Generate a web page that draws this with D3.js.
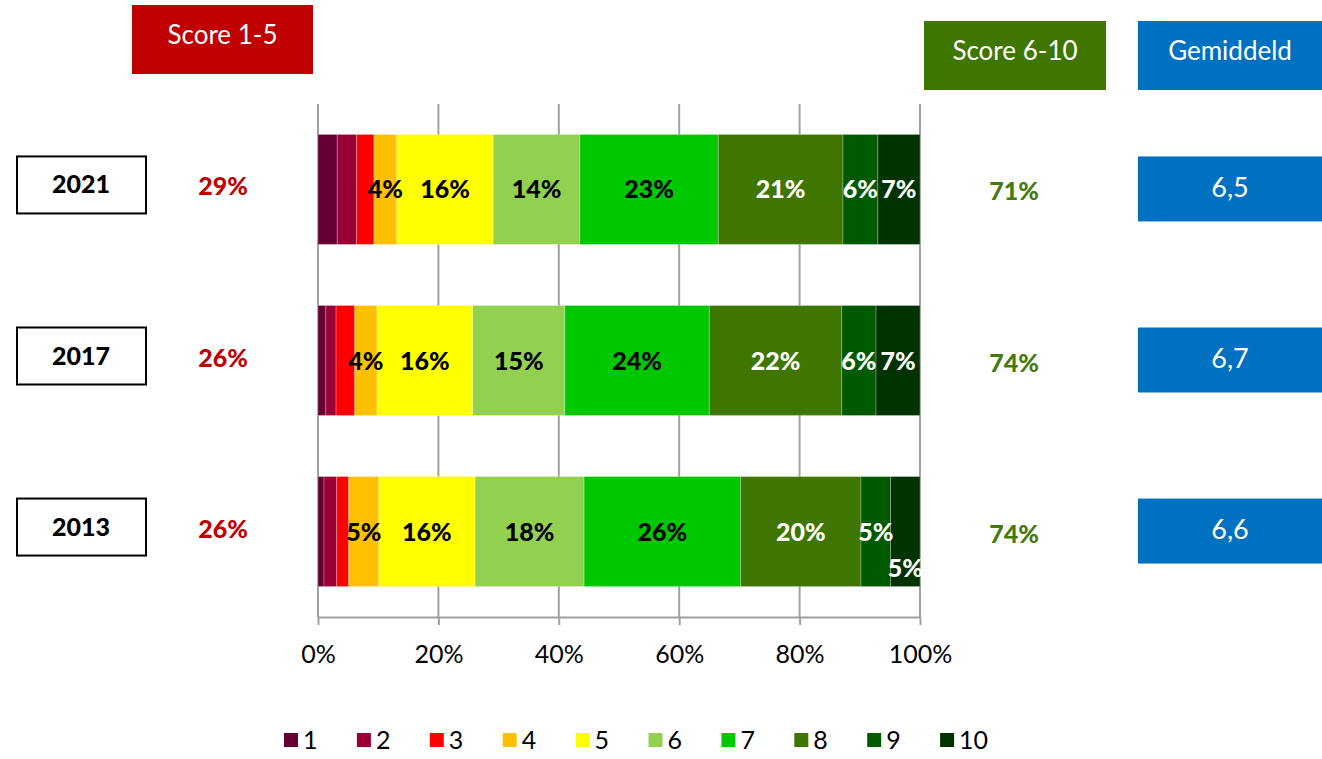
<!DOCTYPE html>
<html>
<head>
<meta charset="utf-8">
<script src="https://cdn.jsdelivr.net/npm/d3@7"></script>
<style>
	body { margin: 0; background: #fff; }
	svg { display: block; font-family: Lato, "Open Sans", sans-serif; }
</style>
</head>
<body>
<script>
//data
var years = ["2021", "2017", "2013"];
var scores = ["1", "2", "3", "4", "5", "6", "7", "8", "9", "10"];
var colors = ["#660033", "#990033", "#FF0000", "#FFC000", "#FFFF00",
	"#92D050", "#00C800", "#3F7600", "#005A00", "#003300"];
var share2021 = [3.2, 3.2, 2.9, 3.8, 16.0, 14.4, 23.0, 20.7, 5.8, 7.0];
var share2017 = [1.3, 1.7, 3.1, 3.7, 15.9, 15.3, 24.0, 22.0, 5.7, 7.3];
var share2013 = [1.0, 2.1, 2.0, 5.0, 16.0, 18.1, 26.0, 20.0, 4.9, 4.9];
var averages = [6.5, 6.7, 6.6];
var ticks = [0, 20, 40, 60, 80, 100];

window.onload = function(){

	var w = 1322, h = 759;
	var shares = [share2021, share2017, share2013];

	var svg = d3.select("body")
		.append("svg")
		.attr("width", w)
		.attr("height", h);

	var x = d3.scaleLinear()
		.domain([0, 100])
		.range([318, 920]);

	var y = d3.scaleBand()
		.domain(years)
		.range([104, 617])
		.paddingInner(0.357)
		.paddingOuter(0.178);

	var color = d3.scaleOrdinal()
		.domain(scores)
		.range(colors);

	//gridlines
	svg.append("g")
		.selectAll("line")
		.data(ticks)
		.enter()
		.append("line")
		.attr("x1", function(d){ return x(d); })
		.attr("x2", function(d){ return x(d); })
		.attr("y1", 104)
		.attr("y2", 617)
		.style("stroke", "#a0a0a0")
		.style("stroke-width", 2);

	//stacked bars
	var rows = years.map(function(yr, i){
		var acc = 0;
		return shares[i].map(function(v, j){
			var seg = {year: yr, score: scores[j], v: v, x0: acc, x1: acc + v, last: j == scores.length - 1};
			acc += v;
			return seg;
		});
	});

	var rowG = svg.selectAll(".row")
		.data(rows)
		.enter()
		.append("g")
		.attr("class", "row");

	rowG.selectAll("rect")
		.data(function(d){ return d; })
		.enter()
		.append("rect")
		.attr("x", function(d){ return x(d.x0); })
		.attr("width", function(d){ return x(d.x1) - x(d.x0); })
		.attr("y", function(d){ return y(d.year); })
		.attr("height", y.bandwidth())
		.style("fill", function(d){ return color(d.score); })
		.style("stroke", "rgba(255,255,255,0.25)")
		.style("stroke-width", 1);

	rowG.selectAll("text")
		.data(function(d){ return d.filter(function(s){ return s.v >= 3.5; }); })
		.enter()
		.append("text")
		.attr("x", function(d){ return (x(d.x0) + x(d.x1)) / 2; })
		.attr("y", function(d){ return y(d.year) + y.bandwidth() / 2; })
		.attr("dy", "0.36em")
		.attr("text-anchor", "middle")
		.style("font-size", "25px")
		.style("font-weight", "900")
		.style("fill", function(d){ return +d.score >= 8 ? "#fff" : "#000"; })
		.text(function(d){ return Math.round(d.v) + "%"; })
		.each(function(d){
			//last label that does not fit drops below the middle
			if (d.last && this.getComputedTextLength() > x(d.x1) - x(d.x0)) {
				d3.select(this).attr("dy", "1.8em");
			}
		});

	//x axis
	var xAxis = d3.axisBottom(x)
		.tickValues(ticks)
		.tickFormat(function(d){ return d + "%"; })
		.tickSize(8)
		.tickSizeOuter(0)
		.tickPadding(20);

	var axis = svg.append("g")
		.attr("transform", "translate(0,617)")
		.call(xAxis);
	axis.select(".domain").style("stroke", "#a0a0a0").style("stroke-width", 2);
	axis.selectAll(".tick line").style("stroke", "#a0a0a0").style("stroke-width", 2);
	axis.selectAll(".tick text")
		.style("font-size", "25px")
		.style("font-family", "Lato, 'Open Sans', sans-serif")
		.style("fill", "#000");

	//year boxes
	var yearG = svg.selectAll(".yearBox")
		.data(years)
		.enter()
		.append("g")
		.attr("class", "yearBox");
	yearG.append("rect")
		.attr("x", 17)
		.attr("y", function(d){ return y(d) + y.bandwidth() / 2 - 33; })
		.attr("width", 129)
		.attr("height", 57)
		.style("fill", "#fff")
		.style("stroke", "#000")
		.style("stroke-width", 2);
	yearG.append("text")
		.attr("x", 81)
		.attr("y", function(d){ return y(d) + y.bandwidth() / 2 - 5; })
		.attr("dy", "0.36em")
		.attr("text-anchor", "middle")
		.style("font-size", "25px")
		.style("font-weight", "900")
		.text(function(d){ return d; });

	//score 1-5 and 6-10 totals
	var low = rows.map(function(r){ return d3.sum(r.slice(0, 5), function(s){ return s.v; }); });
	var high = rows.map(function(r){ return d3.sum(r.slice(5), function(s){ return s.v; }); });

	svg.selectAll(".lowTotal")
		.data(low)
		.enter()
		.append("text")
		.attr("class", "lowTotal")
		.attr("x", 223)
		.attr("y", function(d, i){ return y(years[i]) + y.bandwidth() / 2 - 3; })
		.attr("dy", "0.36em")
		.attr("text-anchor", "middle")
		.style("font-size", "25px")
		.style("font-weight", "900")
		.style("fill", "#C00000")
		.text(function(d){ return Math.round(d) + "%"; });

	svg.selectAll(".highTotal")
		.data(high)
		.enter()
		.append("text")
		.attr("class", "highTotal")
		.attr("x", 1014)
		.attr("y", function(d, i){ return y(years[i]) + y.bandwidth() / 2 + 2; })
		.attr("dy", "0.36em")
		.attr("text-anchor", "middle")
		.style("font-size", "25px")
		.style("font-weight", "900")
		.style("fill", "#457A0C")
		.text(function(d){ return Math.round(d) + "%"; });

	//average boxes
	var avgG = svg.selectAll(".avgBox")
		.data(averages)
		.enter()
		.append("g")
		.attr("class", "avgBox");
	avgG.append("rect")
		.attr("x", 1138)
		.attr("y", function(d, i){ return y(years[i]) + y.bandwidth() / 2 - 33; })
		.attr("width", 184)
		.attr("height", 65)
		.style("fill", "#0070C0");
	avgG.append("text")
		.attr("x", 1230)
		.attr("y", function(d, i){ return y(years[i]) + y.bandwidth() / 2 - 2; })
		.attr("dy", "0.36em")
		.attr("text-anchor", "middle")
		.style("font-size", "27px")
		.style("fill", "#fff")
		.text(function(d){ return d3.format(".1f")(d).replace(".", ","); });

	//header boxes
	var headers = [
		{text: "Score 1-5", x: 132, y: 5, w: 181, fill: "#C00000"},
		{text: "Score 6-10", x: 924, y: 21, w: 182, fill: "#3F7600"},
		{text: "Gemiddeld", x: 1138, y: 21, w: 184, fill: "#0070C0"}
	];
	var headG = svg.selectAll(".header")
		.data(headers)
		.enter()
		.append("g")
		.attr("class", "header");
	headG.append("rect")
		.attr("x", function(d){ return d.x; })
		.attr("y", function(d){ return d.y; })
		.attr("width", function(d){ return d.w; })
		.attr("height", 69)
		.style("fill", function(d){ return d.fill; });
	headG.append("text")
		.attr("x", function(d){ return d.x + d.w / 2; })
		.attr("y", function(d){ return d.y + 30; })
		.attr("dy", "0.36em")
		.attr("text-anchor", "middle")
		.style("font-size", "26px")
		.style("fill", "#fff")
		.text(function(d){ return d.text; });

	//legend
	var legend = svg.selectAll(".legend")
		.data(scores)
		.enter()
		.append("g")
		.attr("class", "legend")
		.attr("transform", function(d, i){ return "translate(" + (284 + i * 72.9) + ",733)"; });
	legend.append("rect")
		.attr("width", 14)
		.attr("height", 14)
		.style("fill", function(d){ return color(d); });
	legend.append("text")
		.attr("x", 19)
		.attr("y", 16)
		.style("font-size", "25px")
		.text(function(d){ return d; });
};
</script>
</body>
</html>
